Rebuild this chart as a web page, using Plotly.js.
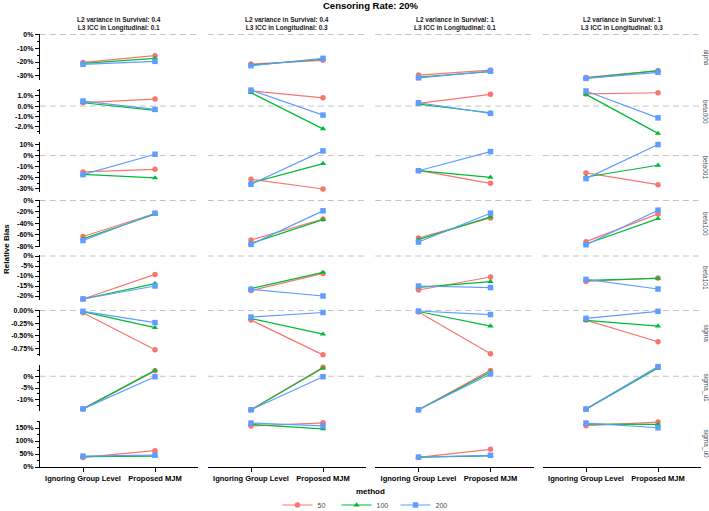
<!DOCTYPE html>
<html>
<head>
<meta charset="utf-8">
<script src="https://cdn.plot.ly/plotly-3.0.1.min.js"></script>
<style>html,body{margin:0;padding:0;background:#fff;}#chart{width:709px;height:511px;}</style>
</head>
<body>
<div id="chart"></div>
<script>
// ---------------- DATA ----------------
const methods = ['Ignoring Group Level', 'Proposed MJM'];
const sampleSizes = ['50', '100', '200'];
const colLabels = [
  'L2 variance in Survival: 0.4<br>L3 ICC in Longitudinal: 0.1',
  'L2 variance in Survival: 0.4<br>L3 ICC in Longitudinal: 0.3',
  'L2 variance in Survival: 1<br>L3 ICC in Longitudinal: 0.1',
  'L2 variance in Survival: 1<br>L3 ICC in Longitudinal: 0.3'
];
const rowLabels = ['alpha', 'beta000', 'beta001', 'beta100', 'beta101', 'sigma', 'sigma_u1', 'sigma_u0'];

// values in %, per series: [col1 ignore, col1 MJM, col2 ignore, col2 MJM, col3 ignore, col3 MJM, col4 ignore, col4 MJM]
const alpha = [
  [-20.3, -15.4, -21.5, -18.8, -29.5, -25.9, -31.2, -26.4],
  [-21.0, -17.3, -22.2, -18.0, -31.0, -27.1, -31.7, -26.2],
  [-21.7, -19.5, -22.7, -17.3, -31.5, -26.6, -31.9, -27.5]
];
const beta000 = [
  [0.35, 0.69, 1.50, 0.82, 0.27, 1.16, 1.20, 1.32],
  [0.33, -0.43, 1.32, -2.25, 0.20, -0.66, 1.16, -2.70],
  [0.50, -0.33, 1.58, -0.89, 0.33, -0.72, 1.49, -1.16]
];
const beta001 = [
  [-14.7, -12.3, -21.3, -30.0, -13.3, -24.9, -15.6, -26.1],
  [-16.8, -20.1, -24.6, -7.2, -13.5, -19.5, -19.2, -8.7],
  [-17.1, 1.2, -25.8, 4.2, -13.6, 3.6, -20.7, 9.9]
];
const beta100 = [
  [-63.0, -22.8, -69.0, -32.3, -65.5, -30.5, -72.0, -23.4],
  [-67.0, -24.0, -75.0, -33.5, -68.4, -28.7, -76.0, -31.7],
  [-70.0, -22.2, -76.8, -18.1, -72.6, -22.2, -77.3, -16.9]
];
const beta101 = [
  [-21.5, -9.2, -17.3, -8.7, -17.0, -10.5, -12.7, -11.0],
  [-21.5, -13.8, -16.3, -8.2, -15.7, -12.8, -12.2, -11.2],
  [-21.5, -15.0, -16.7, -20.0, -15.0, -15.8, -11.7, -16.5]
];
const sigma = [
  [-0.043, -0.78, -0.19, -0.88, -0.03, -0.86, -0.19, -0.62],
  [-0.024, -0.34, -0.16, -0.47, -0.02, -0.31, -0.195, -0.31],
  [-0.016, -0.24, -0.13, -0.04, -0.01, -0.08, -0.155, -0.016]
];
const sigma_u1 = [
  [-13.9, 2.3, -14.3, 3.8, -14.3, 2.5, -14.0, 3.8],
  [-13.9, 2.5, -14.3, 3.5, -14.3, 1.8, -14.0, 3.5],
  [-13.9, -0.2, -14.3, -0.2, -14.3, 1.0, -14.0, 4.1]
];
const sigma_u0 = [
  [37, 63, 158, 170, 37, 68, 159, 173],
  [40, 42, 164, 147, 38, 43, 165, 164],
  [42, 46, 169, 158, 38, 45, 169, 151]
];
const rowData = [alpha, beta000, beta001, beta100, beta101, sigma, sigma_u1, sigma_u0];

// tick labels per row
const tickVals = [
  [0, -10, -20, -30],
  [1, 0, -1, -2],
  [10, 0, -10, -20, -30],
  [0, -20, -40, -60, -80],
  [0, -5, -10, -15, -20],
  [0, -0.25, -0.5, -0.75],
  [0, -5, -10],
  [150, 100, 50, 0]
];
const tickText = [
  ['0%', '-10%', '-20%', '-30%'],
  ['1.0%', '0.0%', '-1.0%', '-2.0%'],
  ['10%', '0%', '-10%', '-20%', '-30%'],
  ['0%', '-20%', '-40%', '-60%', '-80%'],
  ['0%', '-5%', '-10%', '-15%', '-20%'],
  ['0.00%', '-0.25%', '-0.50%', '-0.75%'],
  ['0%', '-5%', '-10%'],
  ['150%', '100%', '50%', '0%']
];

// ---------------- LAYOUT GEOMETRY ----------------
const W = 709, H = 511;
const px = x => x / W;
const py = y => 1 - y / H;
const FONT = 'Liberation Sans, Arial, sans-serif';
const colors = ['#F8766D', '#00BA38', '#619CFF'];
const symbols = ['circle', 'triangle-up', 'square'];
const colCenters = [119, 287, 454.5, 622];
const colHalf = 79.2;
const rowPx = [[34, 80], [89, 134], [142, 192], [200, 247], [255, 300], [310, 356], [365, 411], [421, 467]];
const rowRanges = [[-33.1, 0.4], [-2.76, 1.69], [-32.7, 12.2], [-81.3, 0.9], [-22, 0.5], [-0.903, 0.01], [-14.8, 4.8], [0, 177]];

const layout = {
  width: W, height: H,
  margin: {l: 0, r: 0, t: 0, b: 0, autoexpand: false},
  paper_bgcolor: '#fff', plot_bgcolor: 'rgba(0,0,0,0)',
  font: {family: FONT, color: '#000'},
  showlegend: true,
  title: {text: 'Censoring Rate: 20%', x: px(370.5), xanchor: 'center', y: py(6), yanchor: 'middle',
          font: {family: FONT, size: 9.5, weight: 'bold', color: '#000'}},
  legend: {orientation: 'h', x: px(366), xanchor: 'center', y: py(505), yanchor: 'middle',
           font: {family: FONT, size: 7, color: '#4d4d4d'}, itemwidth: 30, tracegroupgap: 0,
           entrywidthmode: 'pixels', entrywidth: 14,
           bgcolor: 'rgba(0,0,0,0)'},
  shapes: [], annotations: []
};

for (let c = 0; c < 4; c++) {
  const key = 'xaxis' + (c ? c + 1 : '');
  layout[key] = {
    domain: [px(colCenters[c] - colHalf), px(colCenters[c] + colHalf)],
    type: 'category', categoryorder: 'array', categoryarray: methods,
    range: [-0.6, 1.6], anchor: 'y8', automargin: false,
    showline: true, linecolor: '#000', linewidth: 1,
    ticks: 'outside', ticklen: 4, tickwidth: 1, tickcolor: '#000',
    tickfont: {family: FONT, size: 7.5, color: '#000', weight: 'bold'},
    showgrid: false, zeroline: false, fixedrange: true
  };
}
for (let r = 0; r < 8; r++) {
  const key = 'yaxis' + (r ? r + 1 : '');
  const tv = tickVals[r];
  const step = Math.abs(tv[0] - tv[1]);
  layout[key] = {
    domain: [py(rowPx[r][1]), py(rowPx[r][0])],
    range: rowRanges[r], anchor: 'x', automargin: false,
    showline: true, linecolor: '#000', linewidth: 1,
    ticks: 'outside', ticklen: 4, tickwidth: 1, tickcolor: '#000',
    tickmode: 'array', tickvals: tv, ticktext: tickText[r],
    minor: {ticks: 'outside', ticklen: 2, tickwidth: 1, tickcolor: '#000', tickmode: 'linear', tick0: 0, dtick: step / 2, showgrid: false},
    tickfont: {family: FONT, size: 7, color: '#000', weight: 'bold'},
    showgrid: false, zeroline: false, fixedrange: true
  };
}

// reference dashed lines at 0
for (let r = 0; r < 8; r++) {
  if (rowRanges[r][0] >= 0) continue;
  for (let c = 0; c < 4; c++) {
    layout.shapes.push({
      type: 'line', layer: 'below',
      xref: 'x' + (c ? c + 1 : '') + ' domain', x0: 0, x1: 1,
      yref: 'y' + (r ? r + 1 : ''), y0: 0, y1: 0,
      line: {color: '#c4c4c4', width: 1, dash: '6px,4px'}
    });
  }
}

// strip labels
for (let c = 0; c < 4; c++) {
  layout.annotations.push({
    text: colLabels[c], xref: 'paper', yref: 'paper', x: px(colCenters[c]), y: py(24.5),
    xanchor: 'center', yanchor: 'middle', showarrow: false,
    font: {family: FONT, size: 6.5, color: '#1a1a1a', weight: 'bold'}
  });
}
for (let r = 0; r < 8; r++) {
  layout.annotations.push({
    text: rowLabels[r], xref: 'paper', yref: 'paper', x: px(705.5),
    y: py((rowPx[r][0] + rowPx[r][1]) / 2), xanchor: 'center', yanchor: 'middle',
    textangle: 90, showarrow: false, borderpad: 0,
    font: {family: FONT, size: 6.5, color: '#4d4d4d'}
  });
}
layout.annotations.push({
  text: 'Relative Bias', xref: 'paper', yref: 'paper', x: px(7), y: py(249),
  xanchor: 'center', yanchor: 'middle', textangle: -90, showarrow: false,
  font: {family: FONT, size: 8, color: '#000', weight: 'bold'}
});
layout.annotations.push({
  text: 'method', xref: 'paper', yref: 'paper', x: px(370.5), y: py(491),
  xanchor: 'center', yanchor: 'middle', showarrow: false,
  font: {family: FONT, size: 8, color: '#000', weight: 'bold'}
});

// ---------------- TRACES ----------------
const traces = [];
for (let s = 0; s < 3; s++) {
  for (let r = 0; r < 8; r++) {
    for (let c = 0; c < 4; c++) {
      const vals = rowData[r][s];
      traces.push({
        type: 'scatter', mode: 'lines+markers',
        x: methods, y: [vals[2 * c], vals[2 * c + 1]],
        xaxis: 'x' + (c ? c + 1 : ''), yaxis: 'y' + (r ? r + 1 : ''),
        name: sampleSizes[s], legendgroup: sampleSizes[s],
        showlegend: (r === 0 && c === 0),
        line: {color: colors[s], width: 1.2},
        marker: {color: colors[s], symbol: symbols[s], size: 5.5},
        cliponaxis: false, hoverinfo: 'skip'
      });
    }
  }
}

Plotly.newPlot('chart', traces, layout, {staticPlot: true, displayModeBar: false});
</script>
</body>
</html>
